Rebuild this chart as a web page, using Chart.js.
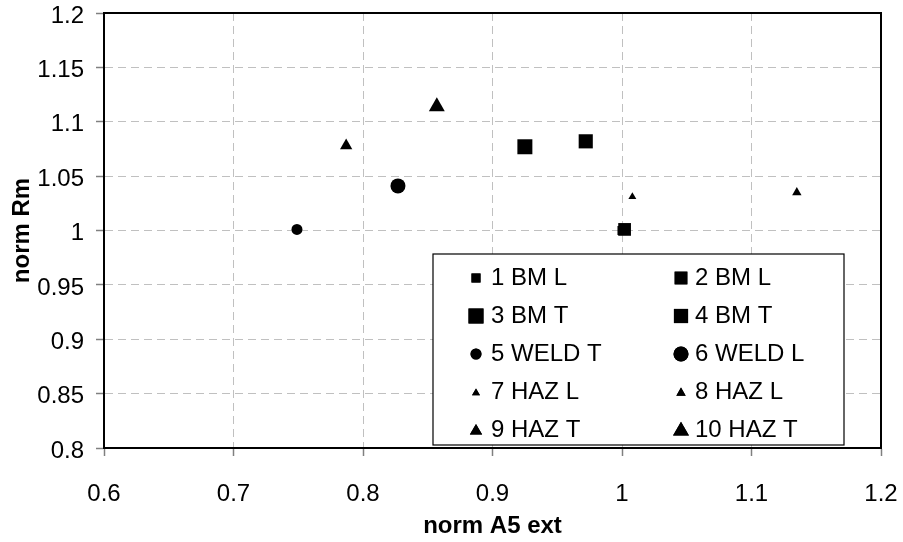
<!DOCTYPE html>
<html lang="en">

<head>
    <meta charset="UTF-8">
    <title>norm Rm vs norm A5 ext</title>
    <script src="https://cdn.jsdelivr.net/npm/chart.js"></script>
    <style>
        body { margin: 0; background: #fff; }
        canvas { display: block; }
    </style>
</head>

<body>
    <canvas id="myChart" width="903" height="542"></canvas>
    <script>
        // data
        const seriesNames = ['1 BM L', '2 BM L', '3 BM T', '4 BM T', '5 WELD T', '6 WELD L', '7 HAZ L', '8 HAZ L', '9 HAZ T', '10 HAZ T'];
        const normA5 = [1.000, 1.002, 0.925, 0.972, 0.749, 0.827, 1.008, 1.135, 0.787, 0.857];
        const normRm = [1.000, 1.001, 1.077, 1.082, 1.001, 1.041, 1.031, 1.035, 1.078, 1.114];
        const markerShapes = ['rect', 'rect', 'rect', 'rect', 'circle', 'circle', 'triangle', 'triangle', 'triangle', 'triangle'];
        const markerSizes = [6.4, 9, 10.6, 10, 5.5, 7.5, 4.6, 5.4, 7.1, 9.2];
        const xTicks = [0.6, 0.7, 0.8, 0.9, 1.0, 1.1, 1.2];
        const yTicks = [0.8, 0.85, 0.9, 0.95, 1.0, 1.05, 1.1, 1.15, 1.2];

        const FONT = "'Liberation Sans', Arial, sans-serif";

        const datasets = seriesNames.map((name, i) => ({
            label: name,
            data: [{ x: normA5[i], y: normRm[i] }],
            pointStyle: markerShapes[i],
            pointRadius: markerSizes[i],
            backgroundColor: '#000',
            borderColor: '#000',
            borderWidth: 0
        }));

        function drawMarker(ctx, style, r, x, y) {
            if (Chart.helpers && Chart.helpers.drawPoint) {
                Chart.helpers.drawPoint(ctx, { pointStyle: style, radius: r, rotation: 0, borderWidth: 0 }, x, y);
                ctx.fill();
                return;
            }
            ctx.beginPath();
            if (style === 'circle') ctx.arc(x, y, r, 0, Math.PI * 2);
            else if (style === 'rect') { const s = r * Math.SQRT1_2; ctx.rect(x - s, y - s, 2 * s, 2 * s); }
            else {
                ctx.moveTo(x, y - r);
                ctx.lineTo(x + r * Math.sin(2 * Math.PI / 3), y + r / 2);
                ctx.lineTo(x - r * Math.sin(2 * Math.PI / 3), y + r / 2);
                ctx.closePath();
            }
            ctx.fill();
        }

        // plot frame + boxed two-column legend inside the plot
        const frameLegend = {
            id: 'frameLegend',
            afterDatasetsDraw(chart) {
                const ctx = chart.ctx;
                const a = chart.chartArea;
                ctx.save();
                ctx.strokeStyle = '#000';
                ctx.lineWidth = 2;
                ctx.strokeRect(a.left, a.top, a.right - a.left, a.bottom - a.top);

                const box = { x: 433, y: 254, w: 411, h: 191 };
                ctx.fillStyle = '#fff';
                ctx.fillRect(box.x, box.y, box.w, box.h);
                ctx.lineWidth = 1.2;
                ctx.strokeRect(box.x, box.y, box.w, box.h);

                ctx.font = '24px ' + FONT;
                ctx.textBaseline = 'middle';
                ctx.textAlign = 'left';
                const markX = [476, 681], textX = [491, 695];
                chart.data.datasets.forEach((ds, i) => {
                    const col = i % 2, row = Math.floor(i / 2);
                    const y = 278 + row * 38;
                    ctx.fillStyle = '#000';
                    drawMarker(ctx, ds.pointStyle, ds.pointRadius, markX[col], y + (ds.pointStyle === 'triangle' ? 1 : 0));
                    ctx.fillText(ds.label, textX[col], y);
                });
                ctx.restore();
            }
        };

        const ctx = document.getElementById('myChart').getContext('2d');
        const chart = new Chart(ctx, {
            type: 'scatter',
            data: { datasets: datasets },
            options: {
                responsive: false,
                animation: false,
                layout: { padding: { top: 13, right: 22, bottom: 0, left: 0 } },
                plugins: { legend: { display: false }, tooltip: { enabled: false } },
                scales: {
                    x: {
                        type: 'linear',
                        min: 0.6,
                        max: 1.2,
                        afterBuildTicks: s => { s.ticks = xTicks.map(v => ({ value: v })); },
                        afterFit: s => { s.height = 94; s.paddingLeft = 0; s.paddingRight = 0; },
                        ticks: {
                            color: '#000',
                            padding: 24,
                            maxRotation: 0,
                            font: { family: FONT, size: 24 },
                            callback: v => String(Math.round(v * 100) / 100)
                        },
                        grid: { color: '#c0c0c0', lineWidth: 1, tickLength: 8, tickColor: '#808080', tickWidth: 1.5 },
                        border: { color: '#000', width: 2, dash: [8, 5] },
                        title: {
                            display: true,
                            text: 'norm A5 ext',
                            color: '#000',
                            font: { family: FONT, size: 24, weight: 'bold' },
                            padding: { top: 0, bottom: 1 }
                        }
                    },
                    y: {
                        type: 'linear',
                        min: 0.8,
                        max: 1.2,
                        afterBuildTicks: s => { s.ticks = yTicks.map(v => ({ value: v })); },
                        afterFit: s => { s.width = 104; s.paddingTop = 0; s.paddingBottom = 0; },
                        ticks: {
                            color: '#000',
                            padding: 12,
                            labelOffset: 3,
                            font: { family: FONT, size: 24 },
                            callback: v => String(Math.round(v * 100) / 100)
                        },
                        grid: { color: '#c0c0c0', lineWidth: 1, tickLength: 8, tickColor: '#808080', tickWidth: 1.5 },
                        border: { color: '#000', width: 2, dash: [8, 5] },
                        title: {
                            display: true,
                            text: 'norm Rm',
                            color: '#000',
                            font: { family: FONT, size: 24, weight: 'bold' },
                            padding: { top: 8, bottom: 0 }
                        }
                    }
                }
            },
            plugins: [frameLegend]
        });
    </script>
</body>

</html>
